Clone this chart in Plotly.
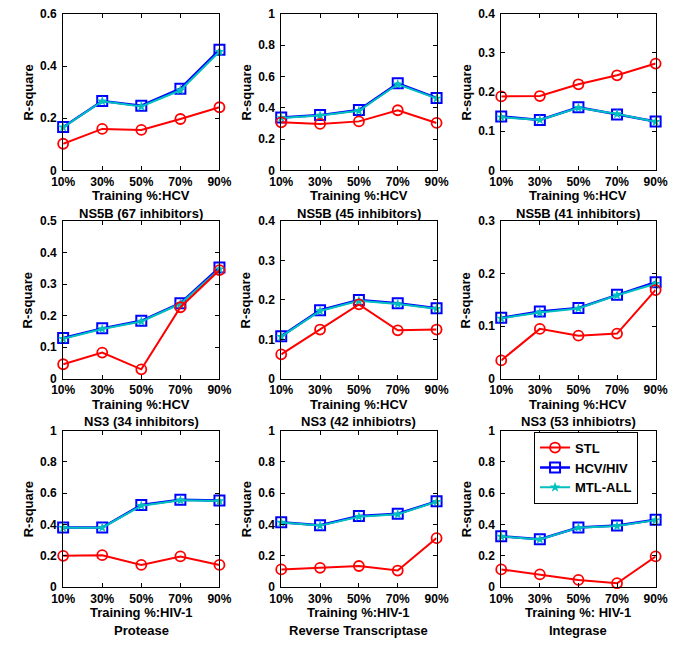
import plotly.graph_objects as go

# ---- data ----
train_pct = [10, 30, 50, 70, 90]
train_labels = ["10%", "30%", "50%", "70%", "90%"]

stl = [
    [0.102, 0.159, 0.155, 0.197, 0.242],
    [0.307, 0.297, 0.313, 0.384, 0.303],
    [0.189, 0.190, 0.220, 0.243, 0.273],
    [0.046, 0.083, 0.030, 0.227, 0.345],
    [0.062, 0.125, 0.189, 0.123, 0.125],
    [0.035, 0.095, 0.082, 0.086, 0.169],
    [0.200, 0.204, 0.142, 0.196, 0.142],
    [0.113, 0.123, 0.135, 0.106, 0.313],
    [0.113, 0.081, 0.046, 0.025, 0.196],
]
hcv_hiv = [
    [0.166, 0.266, 0.248, 0.313, 0.462],
    [0.338, 0.353, 0.386, 0.556, 0.463],
    [0.138, 0.129, 0.161, 0.143, 0.125],
    [0.129, 0.160, 0.184, 0.240, 0.353],
    [0.108, 0.174, 0.200, 0.192, 0.179],
    [0.116, 0.128, 0.135, 0.160, 0.184],
    [0.381, 0.381, 0.525, 0.558, 0.554],
    [0.415, 0.396, 0.454, 0.469, 0.548],
    [0.325, 0.306, 0.381, 0.394, 0.431],
]
mtl_all = [
    [0.165, 0.265, 0.245, 0.307, 0.455],
    [0.335, 0.350, 0.381, 0.550, 0.460],
    [0.136, 0.129, 0.160, 0.144, 0.124],
    [0.127, 0.158, 0.182, 0.238, 0.348],
    [0.107, 0.172, 0.198, 0.190, 0.178],
    [0.115, 0.126, 0.134, 0.159, 0.181],
    [0.380, 0.380, 0.520, 0.555, 0.550],
    [0.413, 0.393, 0.450, 0.465, 0.545],
    [0.323, 0.305, 0.380, 0.390, 0.428],
]
y_max = [0.6, 1.0, 0.4, 0.5, 0.4, 0.3, 1.0, 1.0, 1.0]
y_step = [0.2, 0.2, 0.1, 0.1, 0.1, 0.1, 0.2, 0.2, 0.2]
x_titles = ["Training %:HCV"] * 6 + ["Training %:HIV-1", "Training %:HIV-1", "Training %: HIV-1"]
subtitles = ["NS5B (67 inhibitors)", "NS5B (45 inhibitors)", "NS5B (41 inhibitors)",
             "NS3 (34 inhibitors)", "NS3 (42 inhibiotrs)", "NS3 (53 inhibiotrs)",
             "Protease", "Reverse Transcriptase", "Integrase"]
series_names = ["STL", "HCV/HIV", "MTL-ALL"]

# ---- layout geometry (pixels) ----
W, H = 685, 645
col_px = [(53, 215), (279, 440), (507, 667)]
row_px = [(7, 167), (219, 380), (433, 593)]

RED = "#FF0000"
BLUE = "#0000FF"
CYAN = "#00BFBF"
FONT = "Liberation Sans"

fig = go.Figure()
annotations = []
layout_axes = {}

for i in range(9):
    r, c = divmod(i, 3)
    n = i + 1
    xa = "x" if n == 1 else f"x{n}"
    ya = "y" if n == 1 else f"y{n}"
    xkey = "xaxis" if n == 1 else f"xaxis{n}"
    ykey = "yaxis" if n == 1 else f"yaxis{n}"
    show = (i == 0)

    fig.add_trace(go.Scatter(
        x=train_pct, y=hcv_hiv[i], name=series_names[1], mode="lines+markers",
        line=dict(color=BLUE, width=2.5),
        marker=dict(symbol="square-open", size=10, color=BLUE, line=dict(width=2, color=BLUE)),
        xaxis=xa, yaxis=ya, showlegend=show, legendrank=2, cliponaxis=False))
    fig.add_trace(go.Scatter(
        x=train_pct, y=mtl_all[i], name=series_names[2], mode="lines+markers",
        line=dict(color=CYAN, width=2),
        marker=dict(symbol="star", size=8, color=CYAN, line=dict(width=0)),
        xaxis=xa, yaxis=ya, showlegend=show, legendrank=3, cliponaxis=False))
    fig.add_trace(go.Scatter(
        x=train_pct, y=stl[i], name=series_names[0], mode="lines+markers",
        line=dict(color=RED, width=2),
        marker=dict(symbol="circle-open", size=10, color=RED, line=dict(width=1.8, color=RED)),
        xaxis=xa, yaxis=ya, showlegend=show, legendrank=1, cliponaxis=False))

    x0, x1 = col_px[c]
    y0, y1 = row_px[r]
    nt = int(round(y_max[i] / y_step[i]))
    yt = [round(k * y_step[i], 3) for k in range(nt + 1)]
    layout_axes[xkey] = dict(
        domain=[x0 / W, x1 / W], anchor=ya, range=[10, 90],
        tickmode="array", tickvals=train_pct, ticktext=train_labels,
        ticks="inside", ticklen=4, tickcolor="black", showline=True, linecolor="black",
        linewidth=1, mirror="ticks", showgrid=False, zeroline=False,
        tickfont=dict(family=FONT, size=12, color="black", weight="bold"))
    layout_axes[ykey] = dict(
        domain=[1 - y1 / H, 1 - y0 / H], anchor=xa, range=[0, y_max[i]],
        tickmode="array", tickvals=yt, ticktext=[f"{v:g}" for v in yt],
        ticks="inside", ticklen=4, tickcolor="black", showline=True, linecolor="black",
        linewidth=1, mirror="ticks", showgrid=False, zeroline=False,
        ticklabelstandoff=3,
        tickfont=dict(family=FONT, size=12, color="black", weight="bold"))

    cx = (x0 + x1) / 2 / W
    annotations.append(dict(
        x=cx, y=1 - (y1 + 26) / H, xref="paper", yref="paper", text=x_titles[i],
        showarrow=False, xanchor="center", yanchor="middle",
        font=dict(family=FONT, size=13, color="black", weight="bold")))
    annotations.append(dict(
        x=cx, y=1 - (y1 + 44) / H, xref="paper", yref="paper", text=subtitles[i],
        showarrow=False, xanchor="center", yanchor="middle",
        font=dict(family=FONT, size=13, color="black", weight="bold")))
    annotations.append(dict(
        x=(x0 - 36) / W, y=1 - (y0 + y1) / 2 / H, xref="paper", yref="paper", text="R-square",
        textangle=-90, showarrow=False, xanchor="center", yanchor="middle",
        font=dict(family=FONT, size=13, color="black", weight="bold")))

fig.update_layout(
    width=W, height=H, margin=dict(l=0, r=0, t=0, b=0),
    plot_bgcolor="white", paper_bgcolor="white",
    annotations=annotations,
    legend=dict(
        x=541 / W, y=1 - 434 / H, xanchor="left", yanchor="top",
        bgcolor="white", bordercolor="black", borderwidth=1,
        font=dict(family=FONT, size=13, color="black", weight="bold"),
        tracegroupgap=0, itemwidth=30),
    **layout_axes)

fig.write_html("out.html", config={"displayModeBar": False},
               post_script="document.body.style.margin='0';")
